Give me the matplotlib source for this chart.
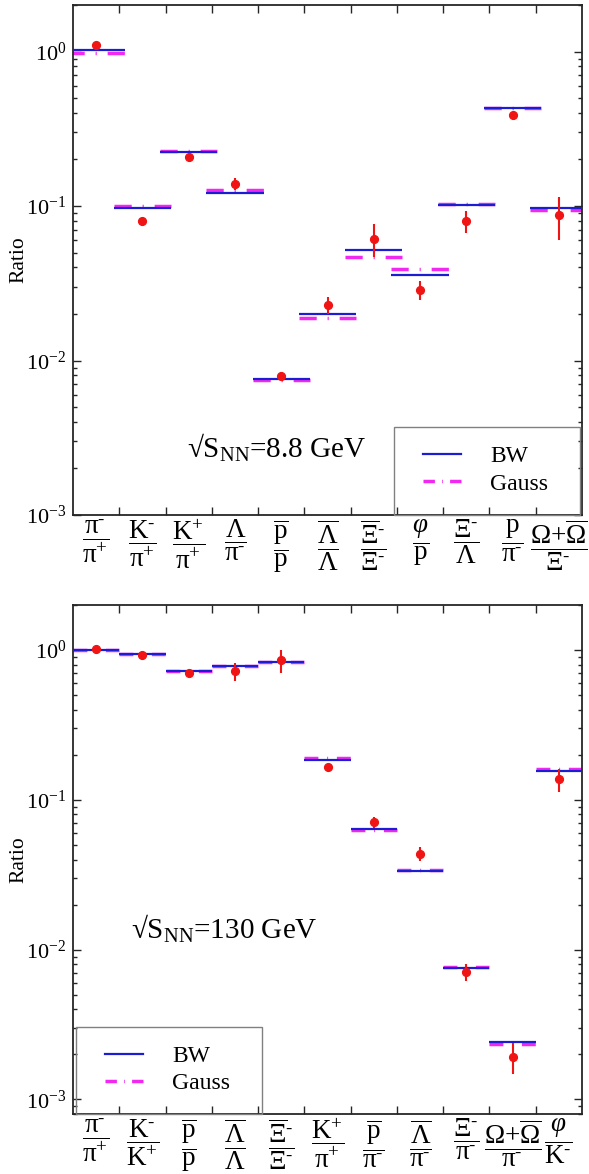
import numpy as np
import matplotlib

matplotlib.use("Agg")
import matplotlib.pyplot as plt
from matplotlib.lines import Line2D
from matplotlib.patches import Rectangle

plt.rcParams["font.family"] = ["Liberation Serif", "DejaVu Serif"]
plt.rcParams["mathtext.fontset"] = "custom"
plt.rcParams["mathtext.rm"] = "Liberation Serif"
plt.rcParams["mathtext.it"] = "Liberation Serif:italic"
plt.rcParams["mathtext.bf"] = "Liberation Serif:bold"
plt.rcParams["lines.scale_dashes"] = False

BLUE = "#1c1cd2"
MAGENTA = "#f028f0"
RED = "#f01414"
SPINE = "#262626"

# --- sqrt(s_NN) = 8.8 GeV ---
top_labels = [
    r"$\dfrac{\mathrm{\pi^{\text{-}}}}{\mathrm{\pi^{+}}}$",
    r"$\dfrac{\mathrm{K^{\text{-}}}}{\mathrm{\pi^{+}}}$",
    r"$\dfrac{\mathrm{K^{+}}}{\mathrm{\pi^{+}}}$",
    r"$\dfrac{\mathrm{\Lambda}}{\mathrm{\pi^{\text{-}}}}$",
    r"$\dfrac{\overline{\mathrm{p}}}{\mathrm{p}}$",
    r"$\dfrac{\overline{\mathrm{\Lambda}}}{\mathrm{\Lambda}}$",
    r"$\dfrac{\overline{\mathrm{\Xi}}^{\text{-}}}{\mathrm{\Xi^{\text{-}}}}$",
    r"$\dfrac{\varphi}{\mathrm{p}}$",
    r"$\dfrac{\mathrm{\Xi^{\text{-}}}}{\mathrm{\Lambda}}$",
    r"$\dfrac{\mathrm{p}}{\mathrm{\pi^{\text{-}}}}$",
    r"$\dfrac{\mathrm{\Omega{+}}\overline{\mathrm{\Omega}}}{\mathrm{\Xi^{\text{-}}}}$",
]
top_bw = [1.02, 0.0977, 0.223, 0.121, 0.00759, 0.0200, 0.0520, 0.0357, 0.101, 0.429, 0.0977]
top_gauss = [0.98, 0.0995, 0.226, 0.126, 0.00750, 0.0189, 0.0465, 0.0389, 0.103, 0.430, 0.0937]
top_data = [1.10, 0.0797, 0.207, 0.139, 0.00797, 0.0229, 0.0616, 0.0285, 0.0797, 0.391, 0.0875]
top_err = [0.02, 0.003, 0.008, 0.012, 0.0004, 0.003, 0.0148, 0.004, 0.0133, 0.01, 0.027]

# --- sqrt(s_NN) = 130 GeV ---
bot_labels = [
    r"$\dfrac{\mathrm{\pi^{\text{-}}}}{\mathrm{\pi^{+}}}$",
    r"$\dfrac{\mathrm{K^{\text{-}}}}{\mathrm{K^{+}}}$",
    r"$\dfrac{\overline{\mathrm{p}}}{\mathrm{p}}$",
    r"$\dfrac{\overline{\mathrm{\Lambda}}}{\mathrm{\Lambda}}$",
    r"$\dfrac{\overline{\mathrm{\Xi}}^{\text{-}}}{\mathrm{\Xi^{\text{-}}}}$",
    r"$\dfrac{\mathrm{K^{+}}}{\mathrm{\pi^{+}}}$",
    r"$\dfrac{\overline{\mathrm{p}}}{\mathrm{\pi^{\text{-}}}}$",
    r"$\dfrac{\overline{\mathrm{\Lambda}}}{\mathrm{\pi^{\text{-}}}}$",
    r"$\dfrac{\mathrm{\Xi^{\text{-}}}}{\mathrm{\pi^{\text{-}}}}$",
    r"$\dfrac{\mathrm{\Omega{+}}\overline{\mathrm{\Omega}}}{\mathrm{\pi^{\text{-}}}}$",
    r"$\dfrac{\varphi}{\mathrm{K^{\text{-}}}}$",
]
bot_bw = [1.0, 0.940, 0.724, 0.778, 0.828, 0.184, 0.0640, 0.0337, 0.0076, 0.00242, 0.155]
bot_gauss = [1.0, 0.940, 0.720, 0.780, 0.830, 0.191, 0.0631, 0.0341, 0.0077, 0.00235, 0.160]
bot_data = [1.01, 0.922, 0.706, 0.721, 0.853, 0.166, 0.0709, 0.0438, 0.00708, 0.00193, 0.137]
bot_err = [0.02, 0.03, 0.02, 0.10, 0.15, 0.004, 0.006, 0.005, 0.0009, 0.00045, 0.024]


def gauss_style(length_pt):
    # dash - dot - dash spread over one segment, like the original plot
    L = length_pt
    return (0, (0.30 * L, 0.19 * L, 0.02 * L, 0.19 * L))


def panel(fig, ax, labels, bw, gauss, data, err, half, ylim, note, note_xy,
          leg_frame, leg_anchor):
    n = len(labels)
    x = np.arange(n) + 0.5
    ax.set_yscale("log")
    ax.set_xlim(0, n)
    ax.set_ylim(*ylim)

    seg_pt = ax.bbox.width / n * 2 * half * 72 / fig.dpi
    ax.hlines(gauss, x - half, x + half, colors=MAGENTA, lw=2.5,
              linestyles=[gauss_style(seg_pt)], zorder=2)
    ax.hlines(bw, x - half, x + half, colors=BLUE, lw=1.6, zorder=3)
    ax.errorbar(x, data, yerr=err, fmt="o", color=RED, ms=5.6, elinewidth=1.5,
                capsize=0, zorder=4)

    ax.set_xticks(x)
    ax.set_xticklabels(labels, fontsize=19.5)
    ax.set_xticks(np.arange(1, n), minor=True)
    ax.tick_params(axis="x", which="major", length=0, pad=2)
    ax.tick_params(axis="x", which="minor", direction="in", top=True,
                   bottom=True, length=5.8, width=1, color=SPINE)
    ax.tick_params(axis="y", which="both", direction="in", left=True,
                   right=True, width=1, color=SPINE, labelsize=16, pad=5)
    ax.tick_params(axis="y", which="major", length=5.8)
    ax.tick_params(axis="y", which="minor", length=3.2)
    ax.yaxis.set_minor_formatter(matplotlib.ticker.NullFormatter())
    for s in ax.spines.values():
        s.set_linewidth(1.3)
        s.set_color(SPINE)

    ax.set_ylabel("Ratio", fontsize=15.5)
    ax.yaxis.set_label_coords(-0.088, 0.5)

    ax.text(note_xy[0], note_xy[1], "√S$_{\\mathrm{NN}}$=" + note,
            transform=ax.transAxes, fontsize=21, ha="left", va="center")

    ax.add_patch(Rectangle(leg_frame[:2], leg_frame[2], leg_frame[3],
                           transform=ax.transAxes, fill=False,
                           edgecolor="#808080", lw=1.0, zorder=5,
                           clip_on=False))
    hl_pt = 38 * 72 / fig.dpi
    handles = [Line2D([], [], color=BLUE, lw=1.6),
               Line2D([], [], color=MAGENTA, lw=2.5,
                      linestyle=gauss_style(hl_pt))]
    ax.legend(handles, ["BW", "Gauss"], loc="center left",
              bbox_to_anchor=leg_anchor, frameon=False, fontsize=17,
              borderpad=0, borderaxespad=0, handlelength=1.61,
              handletextpad=1.23, labelspacing=0.25)


fig = plt.figure(figsize=(5.89, 11.74), dpi=100)
ax1 = fig.add_axes([73 / 589, 1 - 515 / 1174, 509 / 589, 510 / 1174])
ax2 = fig.add_axes([73 / 589, 1 - 1114 / 1174, 509 / 589, 509 / 1174])

panel(fig, ax1, top_labels, top_bw, top_gauss, top_data, top_err, 0.62,
      (1e-3, 2.0), "8.8 GeV", (0.224, 0.131),
      (0.631, 0.0, 0.365, 0.173), (0.688, 0.088))
panel(fig, ax2, bot_labels, bot_bw, bot_gauss, bot_data, bot_err, 0.5,
      (8.0e-4, 2.0), "130 GeV", (0.114, 0.363),
      (0.006, 0.0, 0.365, 0.171), (0.063, 0.087))

fig.savefig("out.png", dpi=100, facecolor="white")
